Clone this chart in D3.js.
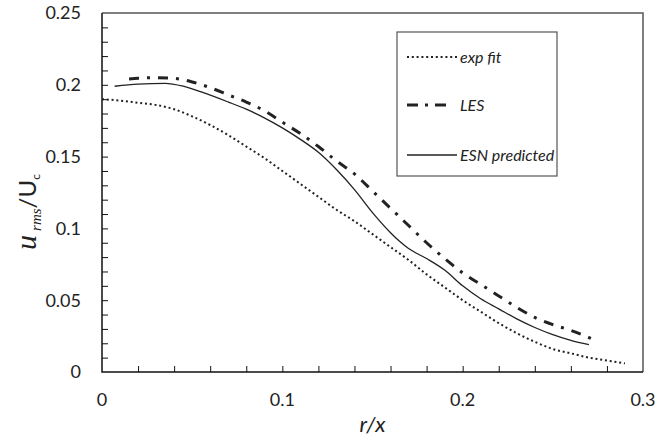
<!DOCTYPE html>
<html>
<head>
<meta charset="utf-8">
<script src="https://cdn.jsdelivr.net/npm/d3@7"></script>
<style>
  body { margin: 0; background: #fff; }
  text { font-family: Lato, "Open Sans", sans-serif; fill: #222; }
</style>
</head>
<body>
<svg width="659" height="442"></svg>
<script>
// values: r/x against u_rms/U_c
var expR = [0, 0.01, 0.02, 0.03, 0.04, 0.05, 0.06, 0.07, 0.08, 0.09, 0.10, 0.11, 0.12, 0.13, 0.14, 0.15, 0.16, 0.17, 0.18, 0.19, 0.20, 0.21, 0.22, 0.23, 0.24, 0.25, 0.26, 0.27, 0.28, 0.29];
var expV = [0.190, 0.189, 0.1875, 0.186, 0.183, 0.178, 0.172, 0.165, 0.157, 0.149, 0.140, 0.131, 0.122, 0.113, 0.105, 0.096, 0.087, 0.078, 0.068, 0.059, 0.050, 0.042, 0.034, 0.027, 0.021, 0.016, 0.013, 0.010, 0.008, 0.006];

var lesR = [0.015, 0.02, 0.03, 0.04, 0.05, 0.06, 0.07, 0.08, 0.09, 0.10, 0.11, 0.12, 0.13, 0.14, 0.15, 0.16, 0.17, 0.18, 0.19, 0.20, 0.21, 0.22, 0.23, 0.24, 0.25, 0.26, 0.27, 0.275];
var lesV = [0.204, 0.2045, 0.205, 0.2045, 0.202, 0.198, 0.193, 0.188, 0.182, 0.174, 0.166, 0.157, 0.147, 0.138, 0.126, 0.114, 0.102, 0.090, 0.079, 0.069, 0.061, 0.053, 0.045, 0.038, 0.033, 0.029, 0.024, 0.021];

var esnR = [0.007, 0.02, 0.035, 0.045, 0.055, 0.07, 0.08, 0.09, 0.10, 0.11, 0.12, 0.13, 0.14, 0.15, 0.16, 0.165, 0.17, 0.18, 0.19, 0.20, 0.21, 0.22, 0.23, 0.24, 0.25, 0.26, 0.27];
var esnV = [0.199, 0.2005, 0.201, 0.199, 0.195, 0.188, 0.183, 0.177, 0.170, 0.162, 0.153, 0.141, 0.127, 0.111, 0.097, 0.091, 0.086, 0.079, 0.071, 0.060, 0.051, 0.044, 0.037, 0.031, 0.026, 0.022, 0.019];

var xTicks = [0, 0.1, 0.2, 0.3];
var yTicks = [0, 0.05, 0.1, 0.15, 0.2, 0.25];
var legendNames = ["exp fit", "LES", "ESN predicted"];

var svg = d3.select("svg");
var pLeft = 102, pRight = 643, pTop = 13, pBottom = 372;

var x = d3.scaleLinear().domain([0, 0.3]).range([pLeft, pRight]);
var y = d3.scaleLinear().domain([0, 0.25]).range([pBottom, pTop]);

// frame (top and right edges are grey)
svg.append("path")
  .attr("d", "M" + pLeft + "," + pTop + "H" + pRight + "V" + pBottom)
  .attr("fill", "none")
  .attr("stroke", "#555")
  .attr("stroke-width", 1.5);

// minor ticks, pointing inward
var yMinor = d3.range(1, 25).map(function(i) { return i / 100; });
var xMinor = d3.range(1, 15).map(function(i) { return i * 0.02; });

svg.append("g")
  .attr("transform", "translate(" + pLeft + ",0)")
  .call(d3.axisRight(y).tickValues(yMinor).tickSize(6).tickFormat(""))
  .call(function(g) { g.select(".domain").remove(); })
  .selectAll("line").attr("stroke", "#111");

svg.append("g")
  .attr("transform", "translate(0," + pBottom + ")")
  .call(d3.axisTop(x).tickValues(xMinor).tickSize(6).tickFormat(""))
  .call(function(g) { g.select(".domain").remove(); })
  .selectAll("line").attr("stroke", "#111");

// axis lines
svg.append("path")
  .attr("d", "M" + pLeft + "," + pTop + "V" + pBottom + "H" + pRight)
  .attr("fill", "none")
  .attr("stroke", "#111")
  .attr("stroke-width", 1.5);

// tick labels
svg.append("g").selectAll("text")
  .data(yTicks)
  .join("text")
  .attr("x", 81)
  .attr("y", function(d) { return y(d); })
  .attr("dy", "0.35em")
  .attr("text-anchor", "end")
  .attr("font-size", 18)
  .text(function(d) { return d3.format("")(d); });

svg.append("g").selectAll("text")
  .data(xTicks)
  .join("text")
  .attr("x", function(d) { return x(d); })
  .attr("y", 400)
  .attr("dy", "0.35em")
  .attr("text-anchor", "middle")
  .attr("font-size", 18)
  .text(function(d) { return d3.format("")(d); });

// axis titles
svg.append("text")
  .attr("x", (pLeft + pRight) / 2)
  .attr("y", 432)
  .attr("text-anchor", "middle")
  .attr("font-size", 22)
  .attr("font-style", "italic")
  .text("r/x");

var yl = svg.append("text")
  .attr("transform", "translate(36,212) rotate(-90)")
  .attr("text-anchor", "middle");
yl.append("tspan")
  .attr("font-family", "Liberation Serif, serif")
  .attr("font-style", "italic")
  .attr("font-size", 30)
  .text("u");
yl.append("tspan")
  .attr("font-family", "Liberation Serif, serif")
  .attr("font-style", "italic")
  .attr("font-size", 15)
  .attr("dy", 5)
  .attr("dx", 4)
  .text("rms");
yl.append("tspan")
  .attr("font-size", 24)
  .attr("dy", -5)
  .text("/U");
yl.append("tspan")
  .attr("font-size", 12)
  .attr("dy", 4)
  .text("c");

// series
function pts(r, v) {
  return r.map(function(d, i) { return [d, v[i]]; });
}
var line = d3.line()
  .x(function(d) { return x(d[0]); })
  .y(function(d) { return y(d[1]); })
  .curve(d3.curveMonotoneX);

var styles = [
  { w: 2, dash: "2,2.8" },
  { w: 3, dash: "10,8,3,8" },
  { w: 1.3, dash: null }
];
var series = [pts(expR, expV), pts(lesR, lesV), pts(esnR, esnV)];

series.forEach(function(s, i) {
  svg.append("path")
    .datum(s)
    .attr("d", line)
    .attr("fill", "none")
    .attr("stroke", "#222")
    .attr("stroke-width", styles[i].w)
    .attr("stroke-dasharray", styles[i].dash);
});

// legend
svg.append("rect")
  .attr("x", 397).attr("y", 32)
  .attr("width", 160).attr("height", 144)
  .attr("fill", "#fff")
  .attr("stroke", "#555")
  .attr("stroke-width", 1.2);

var legendY = [57, 105, 155];
var lg = svg.append("g").selectAll("g")
  .data(legendNames)
  .join("g")
  .attr("transform", function(d, i) { return "translate(0," + legendY[i] + ")"; });

lg.append("line")
  .attr("x1", 407).attr("x2", function(d, i) { return i === 1 ? 451 : 457; })
  .attr("stroke", "#222")
  .attr("stroke-width", function(d, i) { return styles[i].w; })
  .attr("stroke-dasharray", function(d, i) { return i === 1 ? "11,7,3,7" : styles[i].dash; });

lg.append("text")
  .attr("x", 460)
  .attr("dy", "0.35em")
  .attr("font-size", 16)
  .attr("font-style", "italic")
  .text(function(d) { return d; });
</script>
</body>
</html>
